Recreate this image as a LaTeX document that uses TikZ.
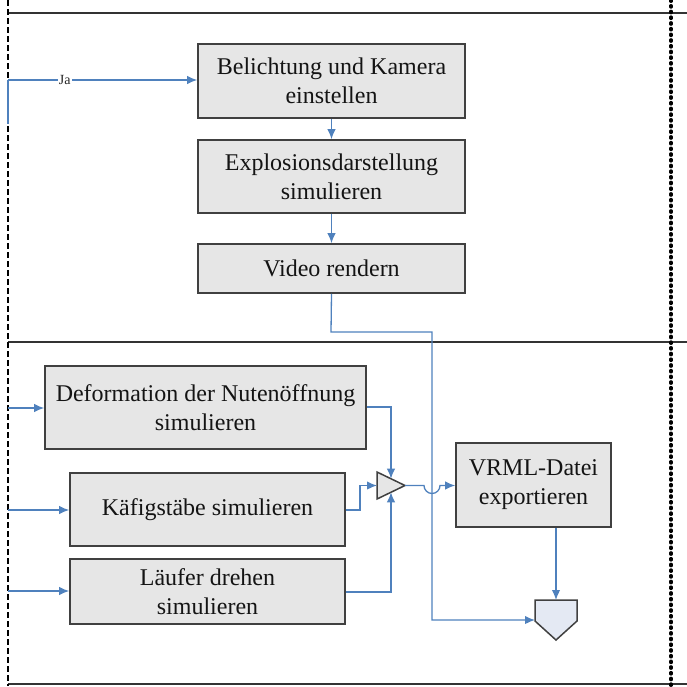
\documentclass[tikz,border=0pt]{standalone}
\usepackage{fontspec}
\setmainfont{Liberation Serif}
\newfontfamily\boxfont{Liberation Serif}
\usetikzlibrary{arrows.meta}
\definecolor{flowblue}{HTML}{4F81BD}
\definecolor{boxfill}{HTML}{E6E6E6}
\definecolor{boxline}{HTML}{404040}
\definecolor{exitfill}{HTML}{E4E9F3}
\begin{document}
\begin{tikzpicture}[x=1pt,y=-1pt,
  stepbox/.style={draw=boxline,line width=1.7pt,fill=boxfill,
    align=center,inner sep=0pt,text=black!92,
    font=\boxfont\fontsize{24}{29}\selectfont},
  flow/.style={draw=flowblue,line width=1.3pt,
    -{Latex[length=10pt,width=8.5pt]}},
  flowline/.style={draw=flowblue,line width=1.3pt},
  lane/.style={line width=1.7pt,draw=black!80}]
\useasboundingbox (0,0) rectangle (687,686);

% lane frame
\draw[lane] (8,13) -- (687,13);
\draw[lane] (8,342) -- (687,342);
\draw[lane] (8,684) -- (687,684);
\draw[line width=2.2pt,dash pattern=on 6pt off 3pt] (8,0) -- (8,686);
\draw[line width=3.4pt,line cap=round,dash pattern=on 1.3pt off 4.4pt] (671,0) -- (671,686);

% process steps
\node[stepbox,minimum width=267,minimum height=74] (bel) at (331.5,81)
  {Belichtung und Kamera\\einstellen};
\node[stepbox,minimum width=267,minimum height=73] (expl) at (331.5,176.5)
  {Explosionsdarstellung\\simulieren};
\node[stepbox,minimum width=267,minimum height=49] (video) at (331.5,268.5)
  {Video rendern};
\node[stepbox,minimum width=321,minimum height=83] (deform) at (205.5,407.5)
  {Deformation der Nutenöffnung\\simulieren};
\node[stepbox,minimum width=275,minimum height=73] (kaefig) at (207.5,509.5)
  {Käfigstäbe simulieren};
\node[stepbox,minimum width=275,minimum height=65] (laeufer) at (207.5,591.5)
  {Läufer drehen\\simulieren};
\node[stepbox,minimum width=155,minimum height=84] (vrml) at (533.5,485)
  {VRML-Datei\\exportieren};

% merge triangle
\coordinate (mtop) at (391,478.7);
\coordinate (mbot) at (391,492.3);
\coordinate (mleft) at (377,485.5);
\coordinate (mtip) at (405,485.5);
\draw[draw=boxline,line width=1.5pt,fill=boxfill,line join=miter]
  (377,472) -- (mtip) -- (377,499) -- cycle;

% off-page connector
\coordinate (ptop) at (556,600);
\coordinate (pleft) at (535,620);
\draw[draw=boxline,line width=1.5pt,fill=exitfill]
  (535,600) -- (577,600) -- (577,621) -- (556,640) -- (535,621) -- cycle;

% connectors
\coordinate (jain) at (8,80);
\draw[flowline] (8,80) -- (8,124);
\draw[flow] (jain) -- (bel.west |- jain)
  node[pos=0.3,fill=white,inner sep=1pt,text=black!85,
       font=\boxfont\fontsize{14}{14}\selectfont] (ja) {Ja};
\draw[flow] (bel.south) -- (expl.north);
\draw[flow] (expl.south) -- (video.north);
\draw[flow] (video.south) -- (331,332) -- (432,332) -- (432,620) -- (pleft);

\coordinate (indef) at (8,408);
\coordinate (inkaef) at (8,510);
\coordinate (inlauf) at (8,591);
\draw[flow] (indef) -- (deform.west |- indef);
\draw[flow] (inkaef) -- (kaefig.west |- inkaef);
\draw[flow] (inlauf) -- (laeufer.west |- inlauf);

\draw[flow] (deform.east |- 0,407) -- (391,407) -- (mtop);
\draw[flow] (laeufer.east |- 0,592) -- (391,592) -- (mbot);
\draw[flow] (kaefig.east |- 0,510) -- (360,510) -- (360,485.5) -- (mleft);

\draw[flow] (mtip) -- (424,485.5) arc[start angle=180,end angle=0,radius=8]
  -- (vrml.west |- mtip);
\draw[flow] (vrml.south -| ptop) -- (ptop);
\end{tikzpicture}
\end{document}
